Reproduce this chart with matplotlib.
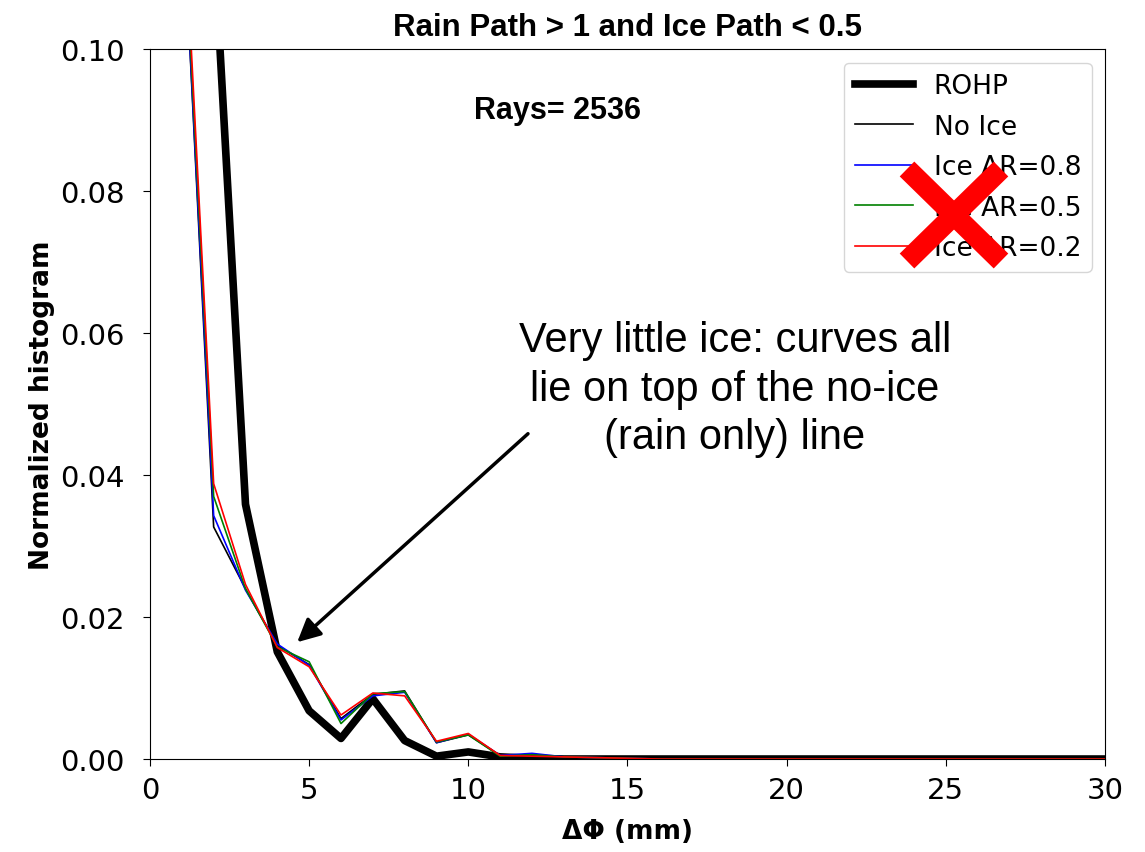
import matplotlib
matplotlib.use("Agg")
import matplotlib.pyplot as plt
from matplotlib.lines import Line2D

# histogram bins (mm)
dphi = list(range(0, 31))

rohp = [0.30, 0.22, 0.116, 0.0359, 0.0151, 0.0068, 0.0029, 0.0085, 0.0026, 0.0004,
        0.0010, 0.0003, 0.0001] + [0.0] * 18
no_ice = [0.40, 0.123, 0.0327, 0.0240, 0.0160, 0.0133, 0.0057, 0.0091, 0.0096, 0.0023,
          0.0034, 0.0005, 0.0006, 0.0003, 0.0002, 0.0001] + [0.0] * 15
ice_08 = [0.40, 0.123, 0.0343, 0.0238, 0.0162, 0.0132, 0.0055, 0.0089, 0.0094, 0.0023,
          0.0035, 0.0005, 0.0008, 0.0003, 0.0002, 0.0001] + [0.0] * 15
ice_05 = [0.40, 0.124, 0.0370, 0.0240, 0.0158, 0.0137, 0.0050, 0.0092, 0.0095, 0.0024,
          0.0034, 0.0004, 0.0006, 0.0003, 0.0002, 0.0001] + [0.0] * 15
ice_02 = [0.40, 0.126, 0.0388, 0.0246, 0.0157, 0.0130, 0.0062, 0.0093, 0.0089, 0.0025,
          0.0036, 0.0005, 0.0004, 0.0003, 0.0002, 0.0001] + [0.0] * 15

n_rays = 2536

fig = plt.figure(figsize=(11.45, 8.53), dpi=100)
ax = fig.add_axes([0.131, 0.109, 0.834, 0.832])

ax.plot(dphi, rohp, color="black", lw=5.5, label="ROHP")
ax.plot(dphi, no_ice, color="black", lw=1.2, label="No Ice")
ax.plot(dphi, ice_08, color="blue", lw=1.2, label="Ice AR=0.8")
ax.plot(dphi, ice_05, color="green", lw=1.2, label="Ice AR=0.5")
ax.plot(dphi, ice_02, color="red", lw=1.2, label="Ice AR=0.2")

ax.set_xlim(0, 30)
ax.set_ylim(0, 0.10)
ax.set_xticks([0, 5, 10, 15, 20, 25, 30])
ax.set_yticks([0.0, 0.02, 0.04, 0.06, 0.08, 0.10])
ax.tick_params(labelsize=21, length=5, pad=7)
ax.tick_params(axis="y", pad=13)
ax.set_xlabel("ΔΦ (mm)", fontsize=19, fontweight="bold", labelpad=10)
ax.set_ylabel("Normalized histogram", fontsize=19, fontweight="bold", labelpad=4)
ax.set_title("Rain Path > 1 and Ice Path < 0.5", fontsize=22.5, fontweight="bold",
             family="Liberation Sans", pad=10)

ax.text(12.8, 0.0915, "Rays= %d" % n_rays, fontsize=22, fontweight="bold",
        family="Liberation Sans", ha="center", va="center")

ax.legend(loc="upper right", fontsize=19, handlelength=2.2, labelspacing=0.55,
          handletextpad=0.8)

# note pointing at the overlapping curves
ax.text(18.38, 0.0522, "Very little ice: curves all\nlie on top of the no-ice\n(rain only) line",
        fontsize=30, family="Liberation Sans", ha="center", va="center", linespacing=1.28)
ax.annotate("", xy=(4.56, 0.0162), xytext=(11.94, 0.0461),
            arrowprops=dict(arrowstyle="-|>", color="black", lw=2.5, mutation_scale=35))

# red cross over the ice legend entries
h = 853
for x0, y0, x1, y1 in [(907, 170, 1001, 262), (907, 262, 1001, 170)]:
    fig.add_artist(Line2D([x0 / 1145, x1 / 1145], [1 - y0 / h, 1 - y1 / h],
                          transform=fig.transFigure, color="red", lw=15,
                          solid_capstyle="butt"))

fig.savefig("out.png", dpi=100)
